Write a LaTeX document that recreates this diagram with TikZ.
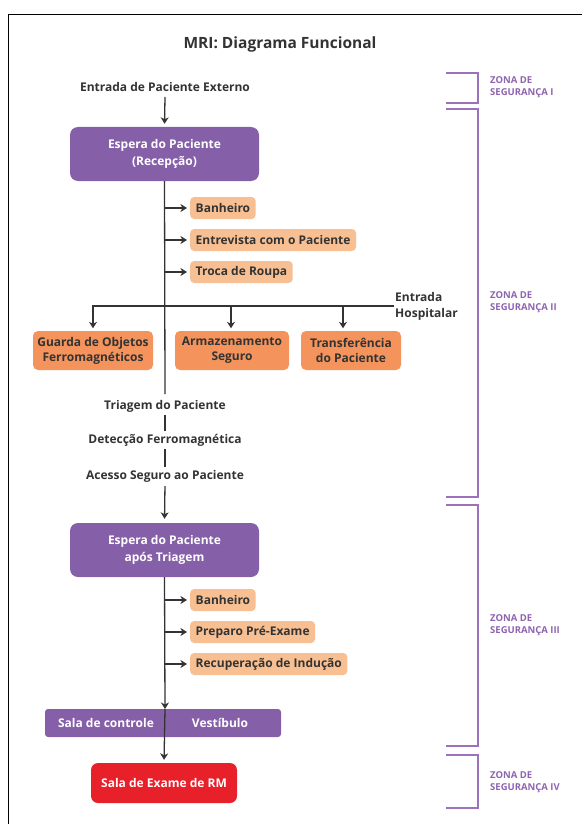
\documentclass[tikz,border=0pt]{standalone}
\usepackage{fontspec}
\setmainfont{Open Sans}
\usetikzlibrary{arrows.meta}
\definecolor{ink}{HTML}{333333}
\definecolor{mpurple}{HTML}{8560A8}
\definecolor{lorange}{HTML}{F8C092}
\definecolor{dorange}{HTML}{F4935B}
\definecolor{mred}{HTML}{E8202A}
\definecolor{zpurple}{HTML}{9B72BB}
\definecolor{ztext}{HTML}{8E63B0}
\tikzset{
  x=1pt,y=-1pt,
  lbl/.style={font=\bfseries\fontsize{12}{13}\selectfont,text=ink,inner sep=1pt},
  pbox/.style={rounded corners=8pt,fill=mpurple,text=white,align=center,font=\bfseries\fontsize{12}{17}\selectfont,minimum width=189pt,minimum height=54pt},
  sbox/.style={rounded corners=4pt,fill=lorange,text=ink,anchor=west,font=\bfseries\fontsize{12}{13}\selectfont,minimum height=22pt,inner xsep=5.5pt},
  obox/.style={rounded corners=5pt,fill=dorange,text=ink,align=center,font=\bfseries\fontsize{12}{15}\selectfont,minimum height=39pt,inner xsep=4pt},
  ln/.style={draw=ink,line width=1.3pt},
  arr/.style={ln,-{Stealth[length=6.5pt,width=8pt,inset=2pt]}},
  zb/.style={draw=zpurple,line width=1.4pt},
  zl/.style={font=\bfseries\fontsize{9.5}{12.5}\selectfont,text=ztext,align=left,anchor=west,inner sep=0pt},
}
\begin{document}
\begin{tikzpicture}
\useasboundingbox (0,0) rectangle (582,824);
% frame
\draw[line width=1pt,black] (8,824) -- (8,15) -- (582,15);
% title
\node[font=\bfseries\fontsize{15.5}{18}\selectfont,text=ink] (title) at (280,44) {MRI: Diagrama Funcional};
\node[lbl] (ext) at (165,87) {Entrada de Paciente Externo};
\node[pbox] (recep) at (164.5,154) {Espera do Paciente\\(Recepção)};
\coordinate (extb) at (165,97);
\draw[arr,shorten >=3pt] (extb) -- (recep.north);
% small boxes zone II
\node[sbox] (ban1) at (190,208) {Banheiro};
\node[sbox] (ent) at (190,240) {Entrevista com o Paciente};
\node[sbox] (troca) at (190,272) {Troca de Roupa};
\coordinate (v1end) at (165,394);
\draw[ln] (recep.south) -- (v1end);
\coordinate (j1) at (165,208);
\coordinate (j2) at (165,240);
\coordinate (j3) at (165,272);
\draw[arr,shorten >=3pt] (j1) -- (ban1.west);
\draw[arr,shorten >=3pt] (j2) -- (ent.west);
\draw[arr,shorten >=3pt] (j3) -- (troca.west);
% hospital entrance
\node[lbl,align=left,anchor=west,font=\bfseries\fontsize{12}{16}\selectfont] (hosp) at (394,306) {Entrada\\Hospitalar};
\coordinate (hl) at (93,306);
\coordinate (hm) at (231,306);
\coordinate (hr) at (343,306);
\node[obox,minimum width=120pt] (guard) at (93,350.5) {Guarda de Objetos\\Ferromagnéticos};
\node[obox,minimum width=114pt] (armaz) at (232,350.5) {Armazenamento\\Seguro};
\node[obox,minimum width=100pt] (transf) at (351,350.5) {Transferência\\do Paciente};
\draw[arr,shorten >=2.5pt] (hosp.west) -- (hl) -- (guard.north -| hl);
\draw[arr,shorten >=2.5pt] (hm) -- (armaz.north -| hm);
\draw[arr,shorten >=2.5pt] (hr) -- (transf.north -| hr);
% screening
\node[lbl] (tri) at (165,406) {Triagem do Paciente};
\node[lbl] (det) at (165,440) {Detecção Ferromagnética};
\node[lbl] (ace) at (165,476) {Acesso Seguro ao Paciente};
\draw[ln,shorten <=2pt,shorten >=2pt] (tri.south) -- (det.north);
\draw[ln,shorten <=2pt,shorten >=2pt] (det.south) -- (ace.north);
\node[pbox] (post) at (164.5,550) {Espera do Paciente\\após Triagem};
\draw[arr,shorten <=3pt,shorten >=4pt] (ace.south) -- (post.north);
% small boxes zone III
\node[sbox] (ban2) at (190,600) {Banheiro};
\node[sbox] (prep) at (190,632) {Preparo Pré-Exame};
\node[sbox] (recup) at (190,664) {Recuperação de Indução};
\coordinate (k1) at (165,600);
\coordinate (k2) at (165,632);
\coordinate (k3) at (165,664);
% bar
\node[rounded corners=3pt,fill=mpurple,minimum width=236pt,minimum height=28pt,inner sep=0pt] (bar) at (163,723) {};
\node[font=\bfseries\fontsize{12}{13}\selectfont,text=white] (ctrl) at (106,723) {Sala de controle};
\node[font=\bfseries\fontsize{12}{13}\selectfont,text=white] (vest) at (220,723) {Vestíbulo};
\coordinate (bartop) at (165,709);
\draw[arr] (post.south) -- (bartop);
\draw[arr,shorten >=3pt] (k1) -- (ban2.west);
\draw[arr,shorten >=3pt] (k2) -- (prep.west);
\draw[arr,shorten >=3pt] (k3) -- (recup.west);
\node[rounded corners=7pt,fill=mred,text=white,font=\bfseries\fontsize{12}{13}\selectfont,minimum width=146pt,minimum height=40pt] (exam) at (164,783) {Sala de Exame de RM};
\draw[arr,shorten >=3pt] (bartop) -- (exam.north);
% zone brackets
\draw[zb] (446,73) -- (478,73) -- (478,103) -- (446,103);
\draw[zb] (446,109) -- (478,109) -- (478,497) -- (446,497);
\draw[zb] (446,505) -- (478,505) -- (478,746) -- (446,746);
\draw[zb] (446,755) -- (478,755) -- (478,808) -- (446,808);
\node[zl] (z1) at (490,87) {ZONA DE\\SEGURANÇA I};
\node[zl] (z2) at (490,302) {ZONA DE\\SEGURANÇA II};
\node[zl] (z3) at (490,625) {ZONA DE\\SEGURANÇA III};
\node[zl] (z4) at (490,782) {ZONA DE\\SEGURANÇA IV};
\end{tikzpicture}
\end{document}
